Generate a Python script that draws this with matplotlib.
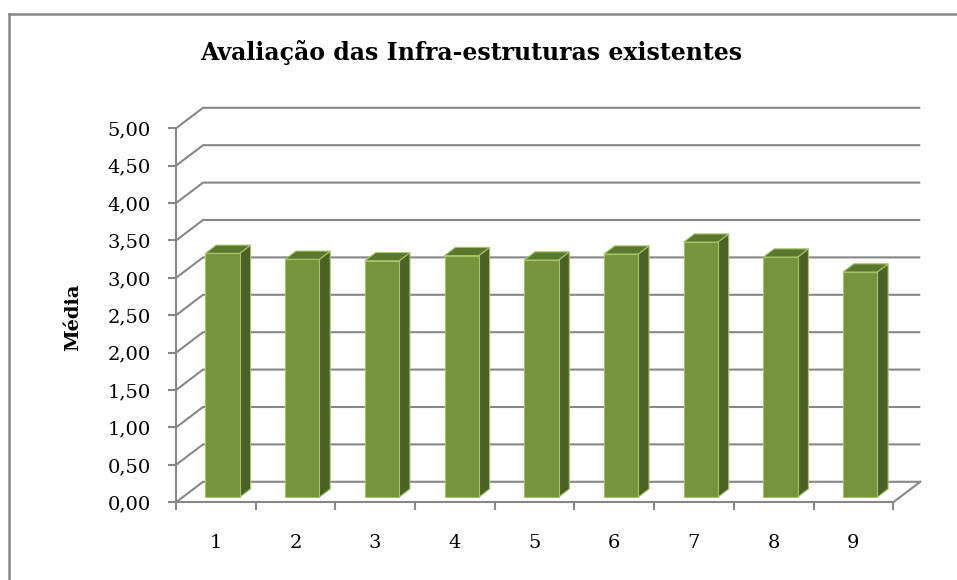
import numpy as np
import matplotlib.pyplot as plt
from matplotlib.patches import Polygon
from matplotlib.lines import Line2D

plt.rcParams['font.family'] = ['DejaVu Serif']

# dados
categorias = ['1', '2', '3', '4', '5', '6', '7', '8', '9']
medias = [3.26, 3.18, 3.16, 3.23, 3.17, 3.25, 3.41, 3.21, 3.01]
ticks_y = np.arange(0, 5.01, 0.5)
rotulos_y = [f"{v:.2f}".replace('.', ',') for v in ticks_y]

titulo = "Avaliação das Infra-estruturas existentes"
rotulo_y = "Média"

# aspecto "3D" (obliquo)
DX, DY = 0.339, 0.274        # profundidade total da caixa, em unidades dos eixos
F0, F1 = 0.25, 0.65          # frente / fundo das colunas (fração da profundidade)
LARG = 0.43
CINZA = '#878787'
VERDE = '#77933C'
VERDE_LADO = '#4B6126'
VERDE_TOPO = '#5A782D'
BORDA = '#A5C46A'

fig = plt.figure(figsize=(9.57, 5.8), dpi=100)
ax = fig.add_axes([0.1839, 0.134, 0.7495, 0.6448])
ax.set_xlim(0.5, 9.5)
ax.set_ylim(0, 5)

x = np.arange(1, len(categorias) + 1)

# parede de fundo e parede lateral
for v in ticks_y:
    ax.plot([0.5, 0.5 + DX, 9.5 + DX], [v, v + DY, v + DY], color=CINZA, lw=1.5,
            clip_on=False, zorder=1, solid_capstyle='butt')
# chão (aresta direita)
ax.plot([9.5, 9.5 + DX], [0, DY], color=CINZA, lw=1.5, clip_on=False, zorder=1)

# colunas: face frontal via bar, laterais e topo a partir dos mesmos valores
fx = x + F0 * DX
bars = ax.bar(fx, medias, width=LARG, bottom=F0 * DY, color=VERDE,
              edgecolor=BORDA, linewidth=0.8, zorder=3, clip_on=False)
d = F1 - F0
for b, v in zip(bars, medias):
    xl = b.get_x()
    xr = xl + b.get_width()
    y0 = b.get_y()
    yt = y0 + v
    lado = Polygon([(xr, y0), (xr + d * DX, y0 + d * DY), (xr + d * DX, yt + d * DY), (xr, yt)],
                   closed=True, facecolor=VERDE_LADO, edgecolor=BORDA, lw=0.8, zorder=2.5,
                   clip_on=False)
    topo = Polygon([(xl, yt), (xr, yt), (xr + d * DX, yt + d * DY), (xl + d * DX, yt + d * DY)],
                   closed=True, facecolor=VERDE_TOPO, edgecolor=BORDA, lw=0.8, zorder=2.5,
                   clip_on=False)
    ax.add_patch(lado)
    ax.add_patch(topo)

# eixos
for s in ['top', 'right']:
    ax.spines[s].set_visible(False)
for s in ['left', 'bottom']:
    ax.spines[s].set_color(CINZA)
    ax.spines[s].set_linewidth(1.5)
ax.set_facecolor('none')

ax.set_yticks(ticks_y)
ax.set_yticklabels(rotulos_y, fontsize=14)
ax.tick_params(axis='y', length=6, width=1.5, color=CINZA, pad=12)

ax.set_xticks(x)
ax.set_xticklabels(categorias, fontsize=14)
ax.set_xticks(np.arange(0.5, 9.6, 1), minor=True)
ax.tick_params(axis='x', which='major', length=0, pad=23)
ax.tick_params(axis='x', which='minor', length=6, width=1.5, color=CINZA)

fig.text(0.492, 0.910, titulo, ha='center', va='center', fontsize=17, fontweight='bold')
fig.text(0.0763, 0.4534, rotulo_y, ha='center', va='center', rotation=90,
         fontsize=14, fontweight='bold')

# moldura do gráfico
fig.add_artist(Line2D([0.0099, 0.0099], [0, 0.9767], transform=fig.transFigure,
                      color=CINZA, lw=1.8))
fig.add_artist(Line2D([0.0099, 1.0], [0.9767, 0.9767], transform=fig.transFigure,
                      color=CINZA, lw=1.8))

fig.savefig('out.png', dpi=100)
